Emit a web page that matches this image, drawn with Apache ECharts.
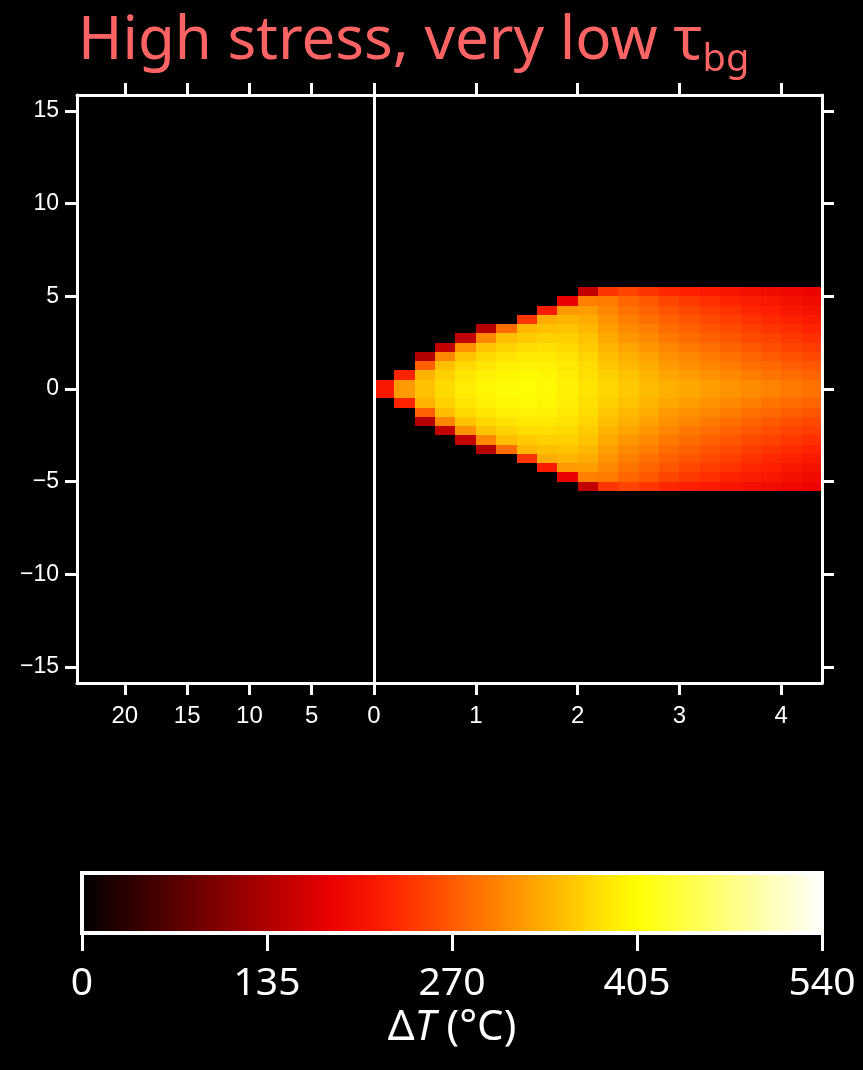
<!DOCTYPE html>
<html><head><meta charset="utf-8">
<script src="https://cdn.jsdelivr.net/npm/echarts@6/dist/echarts.min.js"></script>
<style>html,body{margin:0;padding:0;background:#000;}#c{width:863px;height:1070px;}</style>
</head><body><div id="c"></div>
<script>
// ---- data ----
// column centres along the along-strike distance (right panel)
const colCenters = [0.1,0.3,0.5,0.7,0.9,1.1,1.3,1.5,1.7,1.9,2.1,2.3,2.5,2.7,2.9,3.1,3.3,3.5,3.7,3.9,4.1,4.3];
// |y| bin centres (field mirrored about y = 0)
const binCenters = [0.25,0.75,1.25,1.75,2.25,2.75,3.25,3.75,4.25,4.75,5.25];
// ΔT (°C), one row per column, values at |y| bins
const dTProfiles = [
  [210,0,0,0,0,0,0,0,0,0,0],
  [322,225,0,0,0,0,0,0,0,0,0],
  [353,341,275,140,0,0,0,0,0,0,0],
  [374,366,350,305,150,0,0,0,0,0,0],
  [389,383,372,354,315,150,0,0,0,0,0],
  [397,393,384,371,354,305,140,0,0,0,0],
  [402,398,391,381,367,350,285,0,0,0,0],
  [403,400,394,386,375,361,345,240,0,0,0],
  [400,397,393,386,377,366,352,337,215,0,0],
  [392,390,386,381,374,365,354,342,322,180,0],
  [382,379,375,369,362,354,345,335,324,300,150],
  [370,365,358,351,343,334,325,316,307,297,240],
  [359,354,347,339,330,320,310,300,290,280,252],
  [348,342,335,327,318,308,298,288,278,268,240],
  [338,331,322,314,305,295,285,275,265,254,228],
  [331,323,314,305,295,285,275,265,255,244,220],
  [324,315,305,296,286,276,266,256,246,235,214],
  [317,307,297,287,277,267,257,247,237,226,208],
  [309,298,288,278,268,258,248,238,228,218,202],
  [302,291,281,270,260,250,240,230,220,210,196],
  [295,284,273,263,252,242,232,222,211,202,190],
  [289,278,267,256,246,235,224,213,203,196,185]
];
const yTicks = [-15,-10,-5,0,5,10,15];
const xLeftTicks = [0,5,10,15,20];
const xRightTicks = [0,1,2,3,4];
const xRightLabels = [1,2,3,4];
const cbarTicks = [0,135,270,405,540];
const cbarRange = [0,540];

// ---- cell geometry / styles ----
const colHalf = 0.1, binHalf = 0.25;
const hotColors = ['#000000','#3a0000','#740000','#af0000','#e90000','#ff2300','#ff5a00','#ff9200','#ffca00','#ffff04','#ffff58','#ffffab','#ffffff'];

const cells = [];
colCenters.forEach((xc, i) => {
  dTProfiles[i].forEach((v, j) => {
    if (v <= 0) return;
    const yc = binCenters[j];
    cells.push([xc - colHalf, xc + colHalf, yc - binHalf, yc + binHalf, v]);
    cells.push([xc - colHalf, xc + colHalf, -yc - binHalf, -yc + binHalf, v]);
  });
});

const W = '#ffffff';
const lineW = 3;
const yMin = -15.87, yMax = 15.87;
const labelFont = 'Liberation Sans, Arial, Helvetica, sans-serif';
const fmtMinus = v => String(v).replace('-', '\u2212');
const titleColor = '#ff6464';

const chart = echarts.init(document.getElementById('c'), null, {renderer: 'canvas'});
chart.setOption({
  backgroundColor: '#000',
  animation: false,
  title: {
    text: '{a|High stress, very low τ}{s|bg}',
    left: 78, top: 4, padding: 0,
    textStyle: {
      fontWeight: 'normal',
      rich: {
        a: {fontFamily: 'Noto Sans', fontSize: 60, fontWeight: 'normal', color: titleColor, lineHeight: 76, verticalAlign: 'middle'},
        s: {fontFamily: 'Noto Sans', fontSize: 38, fontWeight: 'normal', color: titleColor, lineHeight: 38, padding: [36, 0, 0, 0], verticalAlign: 'middle'}
      }
    }
  },
  grid: [
    {left: 77, width: 297, top: 95, height: 588},
    {left: 374, right: 41, top: 95, height: 588},
    {left: 82, right: 41, top: 873, height: 60}
  ],
  visualMap: {
    type: 'continuous', show: false, min: cbarRange[0], max: cbarRange[1],
    dimension: 4, seriesIndex: 0, inRange: {color: hotColors}
  },
  xAxis: [
    {gridIndex: 0, type: 'value', position: 'bottom', inverse: true, min: 0, max: 23.84, z: 10,
     axisLine: {show: true, onZero: false, lineStyle: {color: W, width: lineW}},
     axisTick: {show: true, inside: false, length: 12, lineStyle: {color: W, width: lineW}, customValues: xLeftTicks},
     axisLabel: {show: true, color: W, fontFamily: labelFont, fontSize: 24, margin: 21, customValues: xLeftTicks},
     splitLine: {show: false}},
    {gridIndex: 0, type: 'value', position: 'top', inverse: true, min: 0, max: 23.84, z: 10,
     axisLine: {show: true, onZero: false, lineStyle: {color: W, width: lineW}},
     axisTick: {show: true, inside: false, length: 12, lineStyle: {color: W, width: lineW}, customValues: xLeftTicks},
     axisLabel: {show: false}, splitLine: {show: false}},
    {gridIndex: 1, type: 'value', position: 'bottom', min: 0, max: 4.4, z: 10,
     axisLine: {show: true, onZero: false, lineStyle: {color: W, width: lineW}},
     axisTick: {show: true, inside: false, length: 12, lineStyle: {color: W, width: lineW}, customValues: xRightTicks},
     axisLabel: {show: true, color: W, fontFamily: labelFont, fontSize: 24, margin: 21, customValues: xRightLabels},
     splitLine: {show: false}},
    {gridIndex: 1, type: 'value', position: 'top', min: 0, max: 4.4, z: 10,
     axisLine: {show: true, onZero: false, lineStyle: {color: W, width: lineW}},
     axisTick: {show: true, inside: false, length: 12, lineStyle: {color: W, width: lineW}, customValues: xRightTicks},
     axisLabel: {show: false}, splitLine: {show: false}},
    {gridIndex: 2, type: 'value', position: 'bottom', min: cbarRange[0], max: cbarRange[1], z: 10,
     axisLine: {show: false},
     axisTick: {show: true, inside: false, length: 18, lineStyle: {color: W, width: 3}, customValues: cbarTicks},
     axisLabel: {show: true, color: W, fontFamily: 'Noto Sans', fontSize: 39, margin: 31, customValues: cbarTicks},
     splitLine: {show: false},
     name: '{d|Δ}{t|T}{d| (°C)}', nameLocation: 'middle', nameGap: 74,
     nameTextStyle: {rich: {
       d: {fontFamily: 'Noto Sans', fontSize: 42, color: W},
       t: {fontFamily: 'Noto Sans', fontSize: 42, color: W, fontStyle: 'italic'}
     }}}
  ],
  yAxis: [
    {gridIndex: 0, type: 'value', position: 'left', min: yMin, max: yMax, z: 10,
     axisLine: {show: true, onZero: false, lineStyle: {color: W, width: lineW}},
     axisTick: {show: true, inside: false, length: 12, lineStyle: {color: W, width: lineW}, customValues: yTicks},
     axisLabel: {show: true, color: W, fontFamily: labelFont, fontSize: 23, margin: 18, customValues: yTicks, formatter: fmtMinus},
     splitLine: {show: false}},
    {gridIndex: 1, type: 'value', position: 'right', min: yMin, max: yMax, z: 10,
     axisLine: {show: true, onZero: false, lineStyle: {color: W, width: lineW}},
     axisTick: {show: true, inside: false, length: 12, lineStyle: {color: W, width: lineW}, customValues: yTicks},
     axisLabel: {show: false}, splitLine: {show: false}},
    {gridIndex: 1, type: 'value', position: 'left', min: yMin, max: yMax, z: 10,
     axisLine: {show: true, onZero: false, lineStyle: {color: W, width: 3}},
     axisTick: {show: false}, axisLabel: {show: false}, splitLine: {show: false}},
    {gridIndex: 2, type: 'value', min: 0, max: 1, show: false}
  ],
  series: [
    {
      type: 'custom', xAxisIndex: 2, yAxisIndex: 1, clip: true,
      dimensions: ['x0','x1','y0','y1','dT'],
      encode: {x: [0, 1], y: [2, 3]},
      data: cells,
      renderItem: (params, api) => {
        const p0 = api.coord([api.value(0), api.value(3)]);
        const p1 = api.coord([api.value(1), api.value(2)]);
        const x = Math.round(p0[0]), y = Math.round(p0[1]);
        return {type: 'rect', shape: {x: x, y: y, width: Math.round(p1[0]) - x, height: Math.round(p1[1]) - y},
                style: {fill: api.visual('color')}};
      }
    },
    {
      type: 'custom', xAxisIndex: 4, yAxisIndex: 3, clip: false, z: 3,
      data: [cbarRange],
      encode: {x: [0, 1]},
      renderItem: (params, api) => {
        const p0 = api.coord([api.value(0), 1]);
        const p1 = api.coord([api.value(1), 0]);
        const stops = hotColors.map((c, i) => ({offset: i / (hotColors.length - 1), color: c}));
        return {type: 'rect', shape: {x: p0[0], y: p0[1], width: p1[0] - p0[0], height: p1[1] - p0[1]},
                style: {fill: new echarts.graphic.LinearGradient(0, 0, 1, 0, stops), stroke: W, lineWidth: 4}};
      }
    }
  ]
});
</script></body></html>
